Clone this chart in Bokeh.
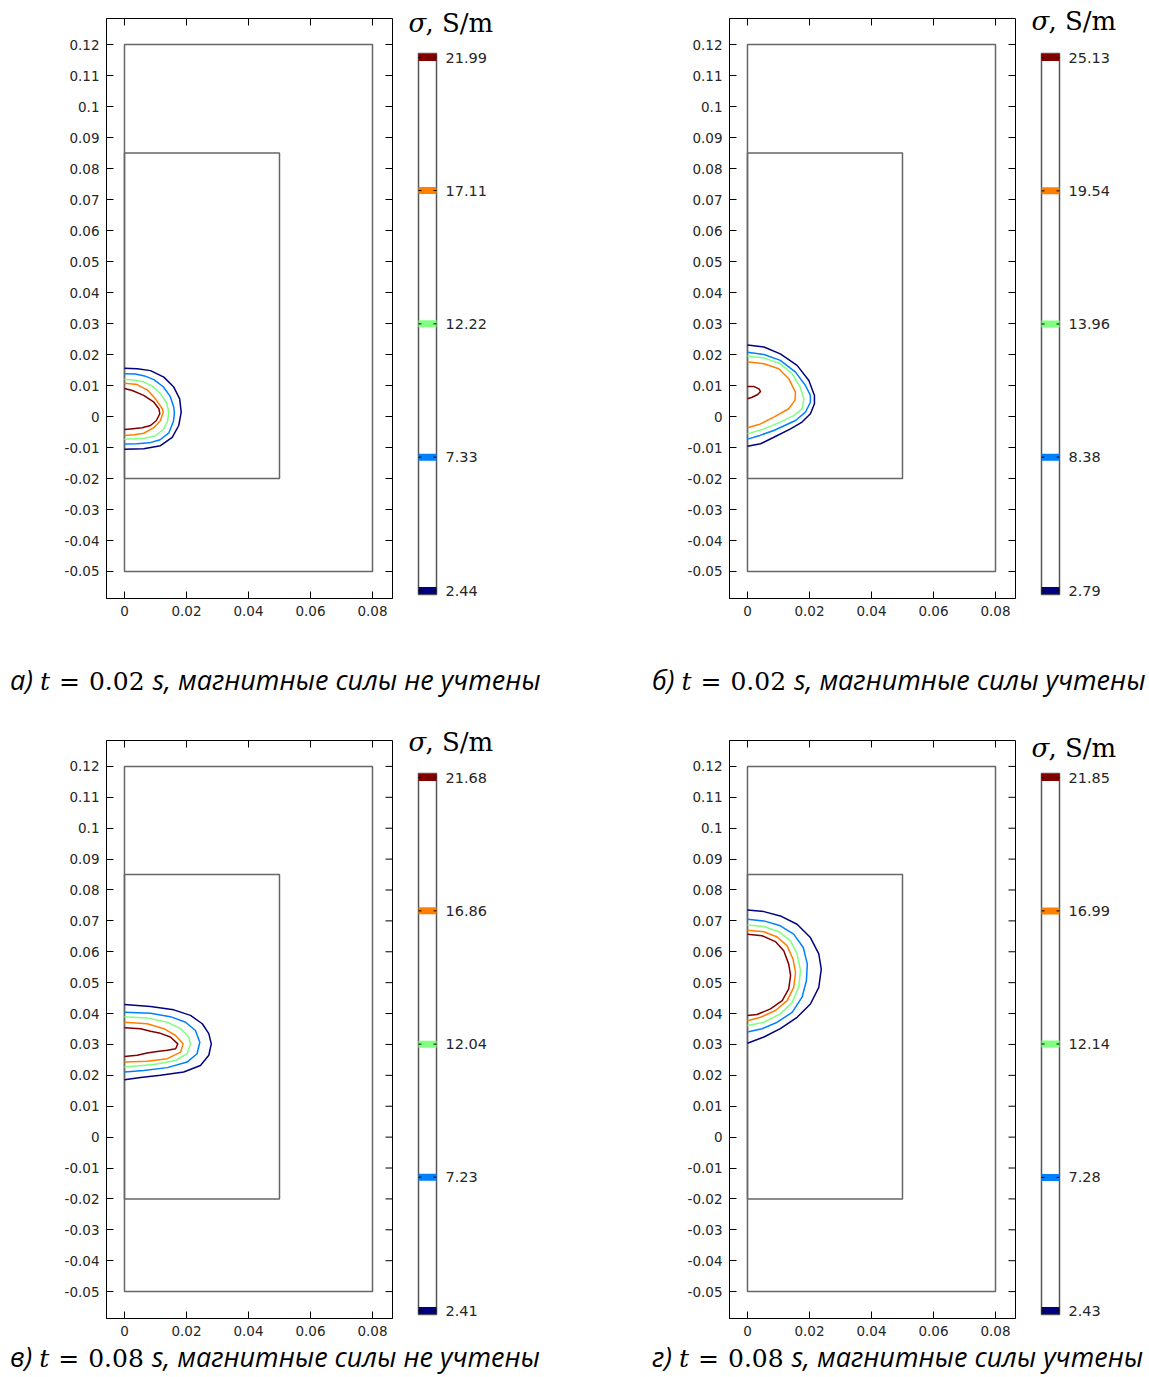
from bokeh.plotting import figure
from bokeh.layouts import row, column
from bokeh.models import Range1d, FixedTicker, Div, ColumnDataSource
from bokeh.core.properties import value
from bokeh.embed import file_html
from bokeh.resources import INLINE

# ---- axis ticks (metres) ----
x_ticks = [0.0, 0.02, 0.04, 0.06, 0.08]
x_tick_labels = ["0", "0.02", "0.04", "0.06", "0.08"]
y_ticks = [-0.05, -0.04, -0.03, -0.02, -0.01, 0.0, 0.01, 0.02, 0.03,
           0.04, 0.05, 0.06, 0.07, 0.08, 0.09, 0.1, 0.11, 0.12]
y_tick_labels = ["-0.05", "-0.04", "-0.03", "-0.02", "-0.01", "0", "0.01", "0.02", "0.03",
                 "0.04", "0.05", "0.06", "0.07", "0.08", "0.09", "0.1", "0.11", "0.12"]

# ---- domain boundaries: outer region and inner body (metres) ----
domain_left = [0.0, 0.0]
domain_right = [0.08, 0.05]
domain_bottom = [-0.05, -0.02]
domain_top = [0.12, 0.085]

# ---- contour level colours, lowest to highest ----
level_colors = ["#000080", "#0080ff", "#80ff80", "#ff8000", "#800000"]

# ---- conductivity levels of each case, S/m ----
levels_a = [2.44, 7.33, 12.22, 17.11, 21.99]
levels_b = [2.79, 8.38, 13.96, 19.54, 25.13]
levels_c = [2.41, 7.23, 12.04, 16.86, 21.68]
levels_d = [2.43, 7.28, 12.14, 16.99, 21.85]

# ---- contour lines, millimetres (outer = lowest level) ----
contour_a_x = [
    [0, 4.1, 8.4, 12.7, 15.9, 17.8, 18.3, 17.5, 15.4, 11.6, 6.2, 0],
    [0, 3.5, 6.5, 9.5, 12.5, 14.8, 15.9, 16.1, 15.8, 14.3, 11.5, 8.0, 4.0, 0],
    [0, 3.0, 6.0, 9.0, 11.6, 13.5, 14.3, 13.9, 12.5, 10.0, 6.5, 3.0, 0],
    [0, 4.1, 7.3, 10.0, 12.2, 12.5, 11.6, 9.5, 6.2, 3.0, 0],
    [0, 2.5, 6.2, 9.5, 11.1, 11.4, 10.3, 8.4, 5.7, 1.9, 0],
]
contour_a_y = [
    [15.6, 15.4, 14.8, 12.7, 9.5, 5.7, 1.4, -2.9, -6.7, -9.4, -10.4, -10.6],
    [13.8, 13.7, 13.1, 11.9, 9.6, 6.4, 3.0, 1.0, -1.5, -5.3, -7.5, -8.5, -8.8, -8.9],
    [11.9, 11.8, 11.2, 9.8, 7.4, 4.5, 1.5, -1.5, -4.2, -6.2, -7.0, -7.2, -7.3],
    [10.7, 10.3, 8.6, 5.7, 2.5, 1.4, -1.3, -3.6, -5.4, -5.9, -6.1],
    [9.0, 8.4, 6.8, 4.6, 2.5, 0.9, -1.3, -2.9, -3.6, -4.0, -4.2],
]

contour_b_x = [
    [0, 5.3, 10.6, 16.0, 19.8, 21.6, 21.6, 20.3, 17.6, 13.9, 8.5, 4.2, 0],
    [0, 5.3, 10.6, 15.5, 18.7, 20.3, 20.3, 18.7, 15.5, 8.5, 4.0, 0],
    [0, 5.3, 10.6, 14.4, 17.0, 18.2, 17.6, 14.9, 10.6, 5.3, 0],
    [0, 5.3, 10.1, 13.3, 15.5, 15.3, 13.3, 8.5, 4.2, 0],
    [0, 2.0, 3.7, 4.2, 3.3, 1.5, 0],
]
contour_b_y = [
    [23.1, 22.4, 20.2, 16.5, 11.6, 6.8, 4.1, 0.9, -1.8, -4.0, -6.7, -8.8, -9.6],
    [20.7, 20.0, 18.1, 14.3, 10.0, 6.8, 4.6, 1.4, -1.3, -4.5, -6.1, -7.3],
    [19.5, 18.9, 17.0, 13.8, 9.5, 5.7, 2.5, 0.3, -1.8, -4.0, -5.6],
    [17.7, 17.0, 15.4, 12.2, 7.8, 5.2, 2.5, -0.2, -2.4, -3.6],
    [9.7, 9.7, 8.9, 8.1, 7.1, 6.2, 5.7],
]

contour_c_x = [
    [0, 8.4, 15.9, 21.3, 25.1, 27.2, 28.0, 27.2, 24.5, 19.1, 11.6, 5.2, 0],
    [0, 8.4, 14.8, 19.7, 22.9, 24.3, 23.4, 20.2, 13.8, 6.2, 0],
    [0, 7.3, 13.8, 18.1, 20.7, 21.3, 20.2, 16.5, 9.5, 0],
    [0, 7.3, 12.7, 16.5, 18.9, 18.1, 13.8, 7.3, 0],
    [0, 5.2, 8.4, 11.6, 14.8, 17.2, 16.5, 13.8, 10.5, 7.3, 4.1, 0],
]
contour_c_y = [
    [42.9, 42.3, 41.2, 39.4, 36.7, 33.5, 30.2, 26.5, 23.2, 21.1, 20.0, 19.3, 18.6],
    [40.4, 40.1, 39.0, 37.2, 34.5, 30.7, 27.0, 24.3, 22.5, 21.6, 21.1],
    [39.0, 38.6, 37.2, 35.1, 32.4, 30.2, 27.0, 24.8, 23.5, 22.7],
    [37.2, 36.7, 35.1, 32.9, 30.2, 27.5, 25.4, 24.6, 24.3],
    [35.4, 35.1, 34.3, 33.6, 32.4, 30.2, 28.6, 28.1, 27.7, 27.2, 26.5, 26.1],
]

contour_d_x = [
    [0, 5.3, 10.6, 16.0, 20.3, 23.0, 23.8, 23.0, 20.3, 16.0, 10.6, 5.3, 0],
    [0, 5.3, 10.6, 14.9, 18.0, 19.3, 19.0, 17.6, 14.4, 9.6, 4.7, 0],
    [0, 5.3, 10.1, 13.9, 16.0, 17.1, 16.5, 14.4, 10.6, 5.3, 0],
    [0, 5.3, 9.6, 12.8, 14.7, 15.5, 14.9, 12.8, 9.0, 4.2, 0],
    [0, 4.7, 9.0, 11.7, 13.3, 13.9, 13.3, 11.2, 7.4, 3.1, 0],
]
contour_d_y = [
    [73.5, 73.0, 71.6, 68.9, 64.6, 59.3, 54.4, 48.5, 43.1, 38.8, 35.1, 32.4, 30.4],
    [70.5, 70.0, 68.4, 65.7, 61.4, 56.0, 50.6, 45.3, 40.4, 37.2, 35.1, 34.0],
    [68.7, 68.2, 66.5, 63.5, 59.3, 53.9, 48.5, 43.6, 39.9, 37.2, 36.1],
    [67.0, 66.5, 64.8, 61.9, 57.6, 53.3, 48.5, 44.2, 41.0, 38.8, 37.7],
    [65.7, 65.2, 63.3, 60.3, 56.0, 52.3, 48.0, 44.2, 41.5, 39.7, 39.4],
]

# ---- captions ----
caption_letters = ["а", "б", "в", "г"]
caption_times = [0.02, 0.02, 0.08, 0.08]
caption_tails = ["магнитные силы не учтены", "магнитные силы учтены",
                 "магнитные силы не учтены", "магнитные силы учтены"]

TICK_FONT = "DejaVu Sans"
TICK_COLOR = "#262626"
X_RANGE = (-0.0058, 0.08645)
Y_RANGE = (-0.05871, 0.12839)
FRAME_W = 286
TICK_LEN = 7


def style_axis(axis, ticks, labels):
    axis.ticker = FixedTicker(ticks=ticks)
    axis.major_label_overrides = dict(zip(ticks, labels))
    axis.major_tick_in = TICK_LEN
    axis.major_tick_out = 0
    axis.minor_tick_line_color = None
    axis.axis_line_color = "black"
    axis.major_tick_line_color = "black"
    axis.major_label_text_font = TICK_FONT
    axis.major_label_text_color = TICK_COLOR
    axis.major_label_text_font_size = "13.5px"
    axis.major_label_standoff = 7


def domain_figure(cx, cy, height, border_top, border_bottom):
    frame_h = height - border_top - border_bottom
    p = figure(width=402, height=height,
               x_range=Range1d(*X_RANGE), y_range=Range1d(*Y_RANGE),
               min_border_left=106, min_border_right=10,
               min_border_top=border_top, min_border_bottom=border_bottom,
               frame_align=False,
               output_backend="svg", toolbar_location=None, tools="")
    p.grid.visible = False
    p.outline_line_color = "black"
    p.outline_line_width = 1
    p.background_fill_color = "white"
    p.border_fill_color = "white"
    style_axis(p.below[0], x_ticks, x_tick_labels)
    style_axis(p.left[0], y_ticks, y_tick_labels)

    # inward tick marks along the top and right edges of the frame
    dx = (X_RANGE[1] - X_RANGE[0]) / FRAME_W * TICK_LEN
    dy = (Y_RANGE[1] - Y_RANGE[0]) / frame_h * TICK_LEN
    p.segment(x0=x_ticks, x1=x_ticks, y0=[Y_RANGE[1]] * len(x_ticks),
              y1=[Y_RANGE[1] - dy] * len(x_ticks), line_color="black", line_width=1)
    p.segment(x0=[X_RANGE[1]] * len(y_ticks), x1=[X_RANGE[1] - dx] * len(y_ticks),
              y0=y_ticks, y1=y_ticks, line_color="black", line_width=1)

    p.quad(left=domain_left, right=domain_right, bottom=domain_bottom, top=domain_top,
           fill_color=None, line_color="#666666", line_width=1.5)

    src = ColumnDataSource(dict(
        xs=[[v / 1000 for v in c] for c in cx],
        ys=[[v / 1000 for v in c] for c in cy],
        color=level_colors,
    ))
    p.multi_line(xs="xs", ys="ys", line_color="color", line_width=1.5, source=src)
    return p


def colorbar_figure(levels, width, height, box_top, title_lift, box_h=541, box_left=16, box_w=18):
    # x: 0..1 spans the bar; y: conductivity value
    lo, hi = levels[0], levels[-1]
    per_px = (hi - lo) / (box_h - 8)
    bar_lo, bar_hi = lo - 4 * per_px, hi + 4 * per_px
    y_top = bar_hi + box_top * per_px
    y_bot = bar_lo - (height - box_top - box_h) * per_px
    x_lo = -box_left / box_w
    x_hi = (width - box_left) / box_w
    p = figure(width=width, height=height,
               x_range=Range1d(x_lo, x_hi), y_range=Range1d(y_bot, y_top),
               min_border=0, frame_align=False,
               x_axis_location=None, y_axis_location=None,
               output_backend="svg", toolbar_location=None, tools="")
    p.grid.visible = False
    p.outline_line_color = None
    p.border_fill_color = "white"

    p.quad(left=[0], right=[1], bottom=[bar_lo], top=[bar_hi],
           fill_color="white", line_color="#555555", line_width=1.5)
    p.segment(x0=0, x1=1, y0=levels, y1=levels, line_color=level_colors, line_width=7)
    tick = 3 / box_w
    p.segment(x0=0, x1=tick, y0=levels, y1=levels, line_color="black", line_width=1)
    p.segment(x0=1 - tick, x1=1, y0=levels, y1=levels, line_color="black", line_width=1)

    p.text(x=[1 + 9 / box_w] * len(levels), y=levels, text=[f"{v:.2f}" for v in levels],
           text_font=value(TICK_FONT), text_font_size="14.5px", text_color=TICK_COLOR,
           text_baseline="middle", text_align="left")

    ty = bar_hi + title_lift * per_px
    p.text(x=[-10 / box_w], y=[ty], text=["σ"], text_font=value("DejaVu Serif"),
           text_font_style="italic", text_font_size="26px", text_color="black",
           text_baseline="middle", text_align="left")
    p.text(x=[7 / box_w], y=[ty], text=[", S/m"], text_font=value("DejaVu Serif"),
           text_font_size="26px", text_color="black",
           text_baseline="middle", text_align="left")
    return p


def caption_div(i, width, height, shift, pad_left):
    letter, t, tail = caption_letters[i], caption_times[i], caption_tails[i]
    serif = "font-family:'DejaVu Serif'; font-size:25px;"
    html = (
        f'<div style="white-space:nowrap; position:relative; top:{shift}px; '
        f'padding-left:{pad_left}px; font-size:27px; line-height:30px; color:#000;">'
        f'<span style="font-family:\'Open Sans\'; font-style:italic;">{letter}) </span>'
        f'<span style="{serif} font-style:italic;">t</span>'
        f'<span style="{serif} padding:0 9px 0 9px;">=</span>'
        f'<span style="{serif}">{t:.2f} </span>'
        f'<span style="font-family:\'Open Sans\'; font-style:italic;">s, {tail}</span></div>'
    )
    return Div(text=html, width=width, height=height)


fa = domain_figure(contour_a_x, contour_a_y, 650, 18, 52)
ca = colorbar_figure(levels_a, 221, 650, 53, 31)
fb = domain_figure(contour_b_x, contour_b_y, 650, 18, 52)
cb = colorbar_figure(levels_b, 124, 650, 53, 33)

fc = domain_figure(contour_c_x, contour_c_y, 620, 18, 24)
cc = colorbar_figure(levels_c, 221, 620, 51, 32)
fd = domain_figure(contour_d_x, contour_d_y, 620, 18, 24)
cd = colorbar_figure(levels_d, 124, 620, 51, 26)

layout = column(
    row(fa, ca, fb, cb),
    row(caption_div(0, 623, 62, 10, 5), caption_div(1, 526, 62, 10, 14)),
    row(fc, cc, fd, cd),
    row(caption_div(2, 623, 30, -5, 5), caption_div(3, 526, 30, -5, 14)),
)

open("out.html", "w").write(file_html(layout, INLINE))
